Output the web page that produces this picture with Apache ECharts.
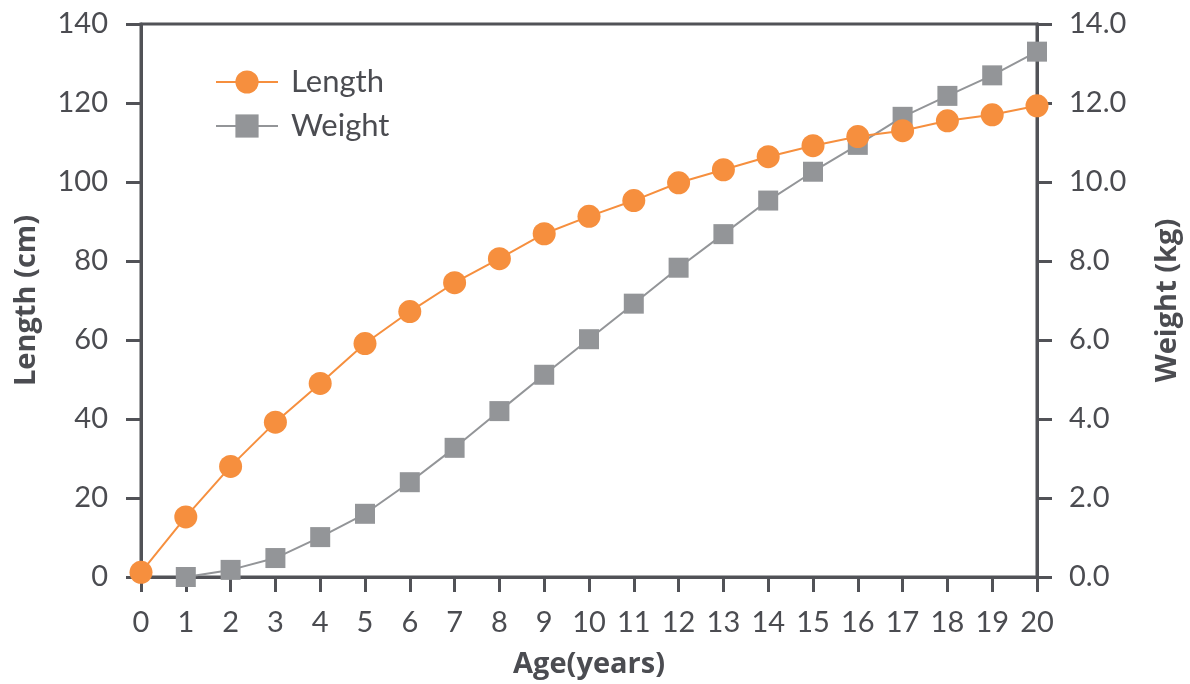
<!DOCTYPE html>
<html>
<head>
<meta charset="utf-8">
<script src="https://cdn.jsdelivr.net/npm/echarts@6/dist/echarts.min.js"></script>
<style>
html,body{margin:0;padding:0;background:#fff;}
#chart{width:1190px;height:684px;}
</style>
</head>
<body>
<div id="chart"></div>
<script>
const ages = [0,1,2,3,4,5,6,7,8,9,10,11,12,13,14,15,16,17,18,19,20];
const lengthCm = [1.2,15.2,28.0,39.2,49.0,59.1,67.2,74.5,80.6,86.9,91.3,95.3,99.8,103.1,106.4,109.2,111.5,113.0,115.5,117.0,119.3];
const weightKg = [null,0.0,0.18,0.48,1.01,1.6,2.4,3.27,4.2,5.12,6.02,6.92,7.83,8.68,9.53,10.26,10.94,11.65,12.18,12.7,13.3];
const lengthTicks = [0,20,40,60,80,100,120,140];
const weightTicks = [0,2,4,6,8,10,12,14];

const axisColor = '#515257';
const textColor = '#4b4c51';
const font = 'Lato, "Noto Sans", sans-serif';
const nameFont = '"Open Sans", "Noto Sans", sans-serif';

const chart = echarts.init(document.getElementById('chart'), null, {renderer:'canvas'});
chart.setOption({
  animation:false,
  backgroundColor:'#fff',
  textStyle:{fontFamily:font},
  grid:{left:141,right:150,top:24,bottom:106,show:true,borderColor:axisColor,borderWidth:3,backgroundColor:'transparent'},
  legend:{
    left:215, top:65, orient:'vertical', padding:0,
    itemWidth:62, itemHeight:29, itemGap:10,
    textStyle:{fontFamily:font,fontSize:31,lineHeight:34,color:textColor,padding:[0,0,0,8]},
    data:['Length','Weight']
  },
  xAxis:{
    type:'value', min:0, max:20, interval:1,
    name:'Age(years)', nameLocation:'middle', nameGap:73,
    nameTextStyle:{fontFamily:nameFont,fontSize:29,fontWeight:'bold',color:textColor},
    axisLine:{show:true,lineStyle:{color:axisColor,width:3}},
    axisTick:{show:true,inside:false,length:15,lineStyle:{color:axisColor,width:3}},
    axisLabel:{fontFamily:font,fontSize:29,color:textColor,margin:31},
    splitLine:{show:false}
  },
  yAxis:[{
    type:'value', min:0, max:140, interval:20, position:'left',
    name:'Length (cm)', nameLocation:'middle', nameGap:100, nameRotate:90,
    nameTextStyle:{fontFamily:nameFont,fontSize:29,fontWeight:'bold',color:textColor},
    axisLine:{show:true,lineStyle:{color:axisColor,width:3}},
    axisTick:{show:true,length:15,lineStyle:{color:axisColor,width:3}},
    axisLabel:{fontFamily:font,fontSize:29,color:textColor,margin:33,
      formatter:v=>lengthTicks.includes(v)?String(v):''},
    splitLine:{show:false}
  },{
    type:'value', min:0, max:14, interval:2, position:'right',
    name:'Weight (kg)', nameLocation:'middle', nameGap:116, nameRotate:90,
    nameTextStyle:{fontFamily:nameFont,fontSize:29,fontWeight:'bold',color:textColor},
    axisLine:{show:true,lineStyle:{color:axisColor,width:3}},
    axisTick:{show:true,length:15,lineStyle:{color:axisColor,width:3}},
    axisLabel:{fontFamily:font,fontSize:29,color:textColor,margin:32,
      formatter:v=>weightTicks.includes(v)?v.toFixed(1):''},
    splitLine:{show:false}
  }],
  series:[{
    name:'Length', type:'line', yAxisIndex:0,
    data: ages.map((a,i)=>[a,lengthCm[i]]),
    symbol:'circle', symbolSize:23,
    itemStyle:{color:'#f68f3e'},
    lineStyle:{color:'#f68f3e',width:2},
    z:3
  },{
    name:'Weight', type:'line', yAxisIndex:1,
    data: ages.map((a,i)=>[a,weightKg[i]]),
    symbol:'rect', symbolSize:20,
    itemStyle:{color:'#939598'},
    lineStyle:{color:'#939598',width:2},
    z:2
  }]
});
</script>
</body>
</html>
